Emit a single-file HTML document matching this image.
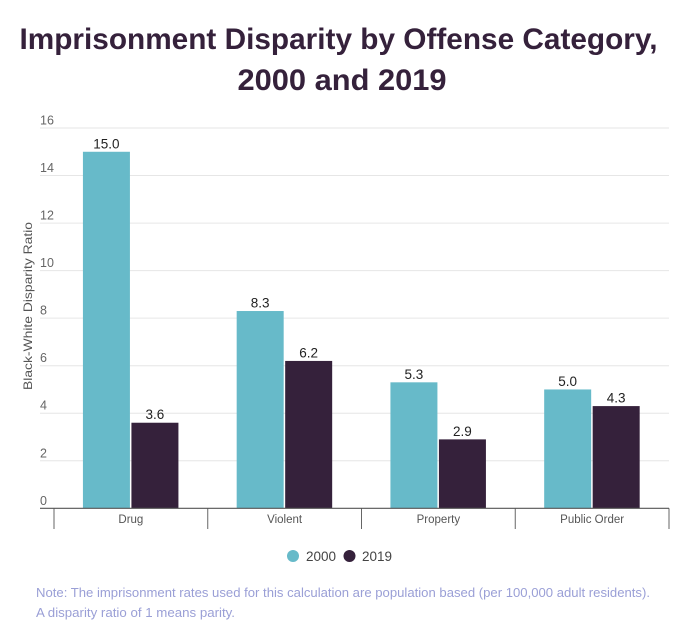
<!DOCTYPE html>
<html lang="en">
<head>
<meta charset="utf-8">
<title>Imprisonment Disparity by Offense Category</title>
<style>
html,body{margin:0;padding:0;background:#fff;}
body{width:676px;height:631px;overflow:hidden;position:relative;font-family:"Liberation Sans",sans-serif;}
svg{position:absolute;left:0;top:0;display:block;}
</style>
</head>
<body>
<svg id="chart" width="676" height="631" viewBox="0 0 676 631" xmlns="http://www.w3.org/2000/svg">
  <text x="338.5" y="49" text-anchor="middle" font-size="30" font-weight="700" fill="#35213b" textLength="638" lengthAdjust="spacingAndGlyphs">Imprisonment Disparity by Offense Category,</text>
  <text x="342" y="90" text-anchor="middle" font-size="30" font-weight="700" fill="#35213b" textLength="209" lengthAdjust="spacingAndGlyphs">2000 and 2019</text>
  <text transform="translate(32,306) rotate(-90)" text-anchor="middle" font-size="12" fill="#555" textLength="168" lengthAdjust="spacingAndGlyphs">Black-White Disparity Ratio</text>
  <g id="grid"></g>
  <g id="bars"></g>
  <g id="axis"></g>
  <g>
    <circle cx="293" cy="556" r="6" fill="#67bac9"></circle>
    <text x="306" y="561" font-size="13.5" fill="#444">2000</text>
    <circle cx="349.5" cy="556" r="6" fill="#35213b"></circle>
    <text x="362" y="561" font-size="13.5" fill="#444">2019</text>
  </g>
  <text x="36" y="597" font-size="13" fill="#9a9fd6" textLength="614" lengthAdjust="spacingAndGlyphs">Note: The imprisonment rates used for this calculation are population based (per 100,000 adult residents).</text>
  <text x="36" y="617" font-size="13" fill="#9a9fd6" textLength="199" lengthAdjust="spacingAndGlyphs">A disparity ratio of 1 means parity.</text>
</svg>
<script>
const categories = ["Drug", "Violent", "Property", "Public Order"];
const series2000 = [15.0, 8.3, 5.3, 5.0];
const series2019 = [3.6, 6.2, 2.9, 4.3];
const yTicks = [0, 2, 4, 6, 8, 10, 12, 14, 16];

const NS = "http://www.w3.org/2000/svg";
const plot = { left: 40, right: 669, catLeft: 54, catRight: 669, y0: 508.3, y16: 128, yMax: 16 };
const yScale = v => plot.y0 - (v / plot.yMax) * (plot.y0 - plot.y16);
const catWidth = (plot.catRight - plot.catLeft) / categories.length;
const catX = i => plot.catLeft + i * catWidth;

function make(parent, tag, attrs, text) {
  const el = document.createElementNS(NS, tag);
  for (const k in attrs) el.setAttribute(k, attrs[k]);
  if (text !== undefined) el.textContent = text;
  document.getElementById(parent).appendChild(el);
  return el;
}

yTicks.forEach(t => {
  if (t !== 0) {
    const line = make("grid", "line", { x1: plot.left, x2: plot.right, y1: yScale(t), y2: yScale(t), stroke: "#e6e6e6", "stroke-width": 1 });
    
    
  }
  const label = make("grid", "text", { x: plot.left, y: yScale(t) - 3.5, "font-size": 12.5, fill: "#666" }, t);
  
  
});

const barWidth = 47;
const barGap = 1.5;
function drawBar(value, x, fill) {
  const top = yScale(value);
  const rect = make("bars", "rect", { x: x, y: top, width: barWidth, height: plot.y0 - top, fill: fill });
  
  
  const label = make("bars", "text", { x: x + barWidth / 2, y: top - 3.5, "text-anchor": "middle", "font-size": 13.5, fill: "#222" }, value.toFixed(1));
  
  
}

categories.forEach((c, i) => {
  const mid = catX(i) + catWidth / 2;
  drawBar(series2000[i], mid - barWidth - barGap / 2 - 0.2, "#67bac9");
  drawBar(series2019[i], mid + barGap / 2 - 0.2, "#35213b");
  const label = make("axis", "text", { x: mid, y: 523, "text-anchor": "middle", "font-size": 11.5, fill: "#555" }, c);
  
  
});

for (let i = 0; i <= categories.length; i++) {
  const tick = make("axis", "line", { x1: catX(i), x2: catX(i), y1: plot.y0, y2: 529, stroke: "#666", "stroke-width": 1 });
  
  
}
const baseline = make("axis", "line", { x1: plot.left, x2: plot.right, y1: plot.y0, y2: plot.y0, stroke: "#555", "stroke-width": 1.2 });


</script>
</body>
</html>
